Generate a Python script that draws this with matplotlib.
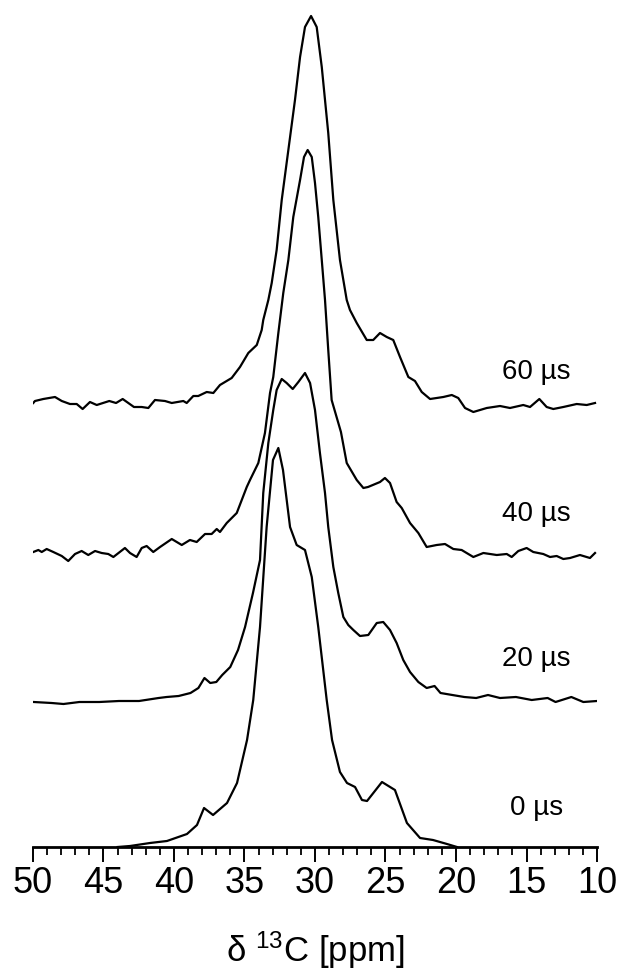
import numpy as np
import matplotlib.pyplot as plt
from matplotlib.ticker import MultipleLocator

plt.rcParams['font.family'] = ['Liberation Sans', 'DejaVu Sans']
plt.rcParams['mathtext.fontset'] = 'custom'
plt.rcParams['mathtext.rm'] = 'Liberation Sans'
plt.rcParams['mathtext.it'] = 'Liberation Sans:italic'

delays = ['0 µs', '20 µs', '40 µs', '60 µs']

# 13C CP spectra, chemical shift (ppm) vs intensity (a.u.)
ppm_0us = [44.0, 43.12, 41.70, 40.50, 39.08, 38.37, 37.87, 37.23, 36.24, 35.53, 34.82,
           34.38, 33.90, 33.43, 32.98, 32.60, 32.27, 31.77, 31.30, 30.71, 30.23, 29.77,
           29.17, 28.79, 28.23, 27.73, 27.16, 26.67, 26.31, 25.25, 24.33, 23.48, 22.55,
           21.63, 20.64, 19.93]
int_0us = [0, 1, 4, 6, 13, 22, 39, 32, 44, 64, 107,
           147, 220, 320, 387, 399, 377, 320, 302, 297, 270, 220,
           147, 107, 75, 64, 60, 47, 46, 65, 57, 24, 9,
           7, 3, 0]

ppm_20us = [49.95, 48.68, 47.84, 46.71, 45.30, 43.90, 42.48, 41.09, 40.52, 39.67, 38.83,
            38.27, 37.84, 37.43, 37.00, 36.58, 36.01, 35.46, 34.96, 34.40, 33.90, 33.67,
            33.31, 32.96, 32.72, 32.36, 32.01, 31.58, 31.18, 30.71, 30.35, 30.00, 29.65,
            29.29, 29.06, 28.70, 28.35, 27.99, 27.64, 27.28, 26.81, 26.22, 25.62, 25.16,
            24.68, 24.21, 23.74, 23.26, 22.67, 22.08, 21.52, 21.10, 20.26, 19.41, 18.57,
            17.73, 16.88, 15.75, 14.63, 13.50, 12.94, 11.82, 10.97, 10.0]
int_20us = [-1, -2, -3, -1, -1, 0, 0, 3, 4, 5, 8,
            13, 23, 18, 19, 26, 34, 51, 74, 108, 141, 208,
            258, 291, 311, 322, 318, 312, 319, 328, 318, 291, 248,
            208, 174, 134, 108, 84, 76, 71, 65, 66, 78, 79,
            71, 58, 41, 29, 19, 13, 15, 8, 6, 4, 3,
            6, 3, 4, 1, 3, -1, 4, -1, 0]

ppm_40us = [49.98, 49.62, 49.38, 49.03, 48.56, 47.96, 47.50, 47.02, 46.55, 46.08, 45.60,
            45.13, 44.66, 44.30, 43.48, 43.12, 42.65, 42.29, 41.94, 41.47, 40.99, 40.16,
            39.45, 38.87, 38.39, 37.80, 37.33, 36.97, 36.74, 36.26, 35.55, 34.84, 34.61,
            34.02, 33.55, 33.19, 32.96, 32.60, 32.25, 31.89, 31.54, 31.06, 30.78, 30.52,
            30.23, 30.00, 29.77, 29.52, 29.29, 29.06, 28.82, 28.16, 27.75, 27.04, 26.57,
            26.24, 25.39, 25.04, 24.68, 24.21, 23.85, 23.26, 22.67, 22.08, 21.37, 20.78,
            20.19, 19.60, 18.77, 18.06, 17.11, 16.40, 16.05, 15.58, 14.99, 14.52, 13.81,
            13.33, 12.86, 12.39, 11.91, 11.21, 10.50, 10.14]
int_40us = [-1, 1, -1, 2, -1, -5, -10, -3, 0, -4, 0,
            -2, -3, -6, 3, -2, -6, 3, 5, -1, 4, 12,
            6, 11, 9, 17, 17, 22, 19, 28, 38, 64, 71,
            88, 118, 158, 174, 218, 258, 291, 334, 371, 394, 401,
            394, 368, 334, 291, 251, 201, 151, 119, 88, 71, 63,
            64, 69, 73, 68, 49, 43, 28, 18, 4, 6, 7,
            2, 1, -6, -2, -4, -3, -6, 0, 3, -1, -3,
            -6, -5, -8, -7, -4, -7, -2]

ppm_60us = [49.98, 49.86, 49.27, 48.44, 47.96, 47.38, 46.90, 46.48, 45.96, 45.48, 44.59,
            44.11, 43.64, 42.84, 42.29, 41.82, 41.35, 40.64, 40.16, 39.34, 39.10, 38.63,
            38.28, 37.68, 37.21, 36.74, 35.91, 35.32, 34.73, 34.13, 33.78, 33.67, 33.31,
            33.07, 32.72, 32.36, 31.89, 31.42, 31.06, 30.71, 30.28, 29.88, 29.52, 29.06,
            28.70, 28.23, 27.99, 27.75, 27.52, 27.04, 26.33, 25.87, 25.39, 24.91, 24.45,
            23.97, 23.38, 22.91, 22.43, 21.84, 21.37, 20.90, 20.30, 19.84, 19.36, 18.77,
            17.82, 16.88, 16.17, 15.23, 14.75, 14.09, 13.57, 13.10, 12.39, 11.44, 10.73,
            10.14]
int_60us = [0, 2, 4, 6, 2, -1, -1, -6, 1, -2, 2,
            0, 4, -4, -4, -5, 3, 2, 0, 2, 0, 7,
            7, 11, 10, 18, 25, 36, 50, 58, 73, 83, 103,
            120, 153, 203, 253, 303, 346, 376, 387, 376, 336, 270,
            203, 143, 123, 103, 93, 80, 63, 63, 70, 66, 63,
            46, 26, 22, 11, 4, 5, 6, 8, 5, -5, -9,
            -5, -3, -5, -2, -4, 4, -4, -6, -4, -1, -2,
            0]

spectra = [(ppm_0us, int_0us), (ppm_20us, int_20us),
           (ppm_40us, int_40us), (ppm_60us, int_60us)]

fig = plt.figure(figsize=(6.19, 9.73), dpi=100)
ax = fig.add_axes([33 / 619, 126 / 973, 564 / 619, 847 / 973])

offsets = [0, 146, 296, 444]   # vertical stacking of the traces
label_dy = [39, 42, 37, 31]

for (ppm, inten), off, dy, name in zip(spectra, offsets, label_dy, delays):
    ax.plot(ppm, np.array(inten) + off, color='black', lw=1.6,
            solid_joinstyle='round')
    ax.text(14.3, off + dy, name, ha='center', va='center', fontsize=20)

ax.set_xlim(50, 10)
ax.set_ylim(0, 847)

for side in ['left', 'right', 'top']:
    ax.spines[side].set_visible(False)
ax.spines['bottom'].set_linewidth(2.0)

ax.xaxis.set_major_locator(MultipleLocator(5))
ax.xaxis.set_minor_locator(MultipleLocator(1))
ax.tick_params(axis='x', which='major', length=11, width=1.4, direction='out',
               labelsize=26, pad=3)
ax.tick_params(axis='x', which='minor', length=6, width=1.3, direction='out')
ax.set_yticks([])

ax.set_xlabel('δ $^{13}$C [ppm]', fontsize=25)
ax.xaxis.set_label_coords(0.5, -(950 - 847) / 847)
ax.xaxis.label.set_verticalalignment('center')

fig.savefig('out.png', dpi=100)
